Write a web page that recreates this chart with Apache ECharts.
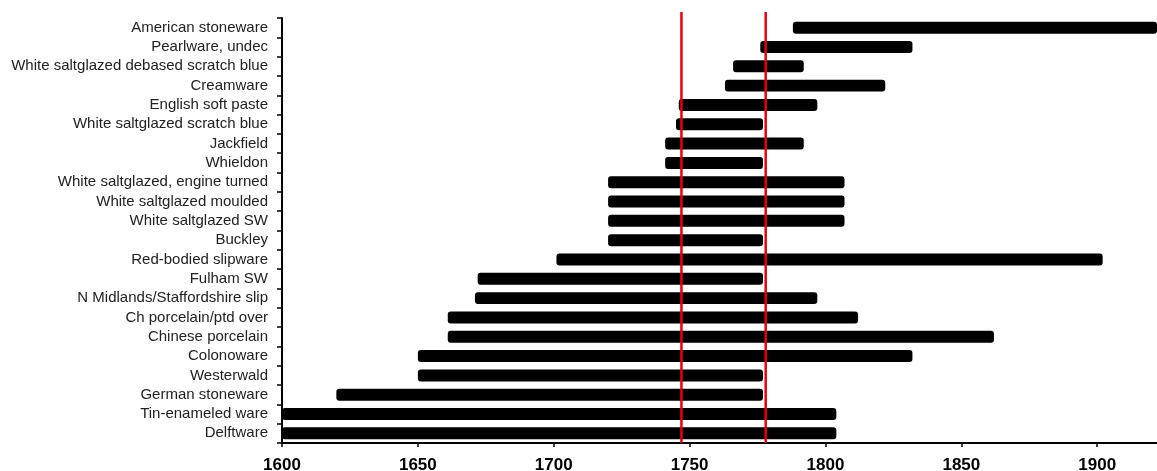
<!DOCTYPE html>
<html>
<head>
<meta charset="utf-8">
<script src="https://cdn.jsdelivr.net/npm/echarts@6/dist/echarts.min.js"></script>
<style>
html,body{margin:0;padding:0;background:#fff;}
#chart{width:1157px;height:471px;}
</style>
</head>
<body>
<div id="chart"></div>
<script>
// Categories, top to bottom
const categories = [
  "American stoneware",
  "Pearlware, undec",
  "White saltglazed debased scratch blue",
  "Creamware",
  "English soft paste",
  "White saltglazed scratch blue",
  "Jackfield",
  "Whieldon",
  "White saltglazed, engine turned",
  "White saltglazed moulded",
  "White saltglazed SW",
  "Buckley",
  "Red-bodied slipware",
  "Fulham SW",
  "N Midlands/Staffordshire slip",
  "Ch porcelain/ptd over",
  "Chinese porcelain",
  "Colonoware",
  "Westerwald",
  "German stoneware",
  "Tin-enameled ware",
  "Delftware"
];
const startYears = [1788,1776,1766,1763,1746,1745,1741,1741,1720,1720,1720,1720,1701,1672,1671,1661,1661,1650,1650,1620,1600,1600];
const endYears   = [1925,1832,1792,1822,1797,1777,1792,1777,1807,1807,1807,1777,1902,1777,1797,1812,1862,1832,1777,1777,1804,1804];
const redLines = [1747, 1778];

const barData = categories.map((c,i)=>[startYears[i], endYears[i], i]);

const chart = echarts.init(document.getElementById('chart'), null, {renderer:'canvas'});
chart.setOption({
  animation:false,
  backgroundColor:'#ffffff',
  grid:{left:282, right:0, top:18, bottom:28, containLabel:false, outerBoundsMode:'none'},
  xAxis:{
    type:'value', min:1600, max:1922, interval:50,
    axisLine:{show:true, lineStyle:{color:'#000', width:2}},
    axisTick:{show:true, length:4, lineStyle:{color:'#000', width:1.5}},
    axisLabel:{color:'#000', fontFamily:'Liberation Sans, Arial, sans-serif', fontWeight:'bold', fontSize:17, margin:14, showMaxLabel:false,
      formatter:function(v){return String(v);}},
    splitLine:{show:false}
  },
  yAxis:{
    type:'category', data:categories, inverse:true,
    axisLine:{show:true, lineStyle:{color:'#000', width:2}},
    axisTick:{show:true, interval:0, length:5, lineStyle:{color:'#000', width:1.5}},
    axisLabel:{interval:0, color:'#222', fontFamily:'Liberation Sans, Arial, sans-serif', fontSize:15, margin:14},
    splitLine:{show:false}
  },
  series:[
    {
      type:'custom',
      clip:true,
      data:barData,
      encode:{x:[0,1], y:2},
      renderItem:function(params, api){
        const s = api.coord([api.value(0), api.value(2)]);
        const e = api.coord([api.value(1), api.value(2)]);
        const h = api.size([0,1])[1]*0.62;
        const cs = params.coordSys;
        const rect = echarts.graphic.clipRectByRect({x:s[0], y:s[1]-h/2, width:e[0]-s[0], height:h},
          {x:cs.x, y:cs.y, width:cs.width, height:cs.height});
        if(!rect) return;
        return {type:'rect', shape:Object.assign({r:3}, rect), style:{fill:'#000'}};
      }
    },
    {
      type:'custom',
      clip:false,
      data:redLines.map(v=>[v]),
      encode:{x:0},
      z:10,
      renderItem:function(params, api){
        const cs = params.coordSys;
        const p = api.coord([api.value(0), 0]);
        return {type:'line', shape:{x1:p[0], y1:cs.y-6, x2:p[0], y2:cs.y+cs.height}, style:{stroke:'#e8000b', lineWidth:2.5}};
      }
    }
  ]
});
</script>
</body>
</html>
